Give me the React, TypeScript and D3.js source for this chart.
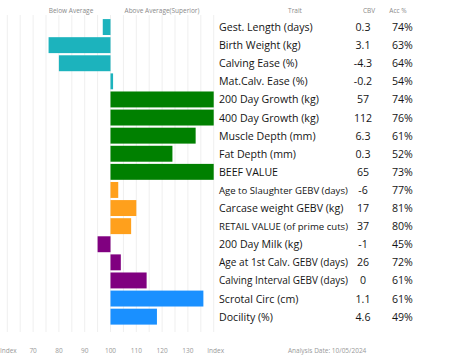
import React, { useEffect, useRef } from 'react';
import * as d3 from 'd3';

const traits = [
  'Gest. Length (days)', 'Birth Weight (kg)', 'Calving Ease (%)', 'Mat.Calv. Ease (%)',
  '200 Day Growth (kg)', '400 Day Growth (kg)', 'Muscle Depth (mm)', 'Fat Depth (mm)',
  'BEEF VALUE', 'Age to Slaughter GEBV (days)', 'Carcase weight GEBV (kg)',
  'RETAIL VALUE (of prime cuts)', '200 Day Milk (kg)', 'Age at 1st Calv. GEBV (days)',
  'Calving Interval GEBV (days)', 'Scrotal Circ (cm)', 'Docility (%)',
];
const cbv = ['0.3', '3.1', '-4.3', '-0.2', '57', '112', '6.3', '0.3', '65', '-6', '17', '37', '-1', '26', '0', '1.1', '4.6'];
const acc = ['74%', '63%', '64%', '54%', '74%', '76%', '61%', '52%', '73%', '77%', '81%', '80%', '45%', '72%', '61%', '61%', '49%'];
const indexValues = [97, 76, 80, 101, 140, 140, 133, 124, 140, 103, 110, 108, 95, 104, 114, 136, 118];
const groups = ['calving', 'calving', 'calving', 'calving', 'growth', 'growth', 'growth', 'growth', 'growth',
  'carcase', 'carcase', 'carcase', 'maternal', 'maternal', 'maternal', 'other', 'other'];
const groupColors = { calving: '#1cb3bd', growth: '#008000', carcase: '#ffa01c', maternal: '#800080', other: '#1a90ff' };
const tickLabels = ['Index', '70', '80', '90', '100', '110', '120', '130', 'Index'];

function App() {
  const ref = useRef<SVGSVGElement>(null);

  useEffect(() => {
    const svg = d3.select(ref.current);
    svg.selectAll('*').remove();

    const font = 'Open Sans, sans-serif';
    const x = d3.scaleLinear().domain([60, 140]).range([7.3, 213.7]).clamp(true);
    const y = d3.scaleBand().domain(traits).range([18, 325.7]).paddingInner(0.12).paddingOuter(0.06);

    // grid
    svg.append('g')
      .selectAll('line')
      .data(d3.range(60, 141, 5))
      .join('line')
      .attr('x1', d => x(d)).attr('x2', d => x(d))
      .attr('y1', 15).attr('y2', 332)
      .attr('stroke', '#efefef')
      .attr('stroke-width', 1);

    // bars
    svg.append('g')
      .selectAll('rect')
      .data(traits)
      .join('rect')
      .attr('x', (d, i) => Math.min(x(100), x(indexValues[i])))
      .attr('width', (d, i) => Math.abs(x(indexValues[i]) - x(100)))
      .attr('y', d => y(d))
      .attr('height', y.bandwidth())
      .attr('fill', (d, i) => groupColors[groups[i]]);

    // header
    const header = [
      { t: 'Below Average', x: 71 },
      { t: 'Above Average(Superior)', x: 162 },
      { t: 'Trait', x: 295 },
      { t: 'CBV', x: 369 },
      { t: 'Acc %', x: 398 },
    ];
    svg.append('g')
      .selectAll('text')
      .data(header)
      .join('text')
      .attr('x', d => d.x)
      .attr('y', 13)
      .attr('text-anchor', 'middle')
      .style('font-family', font)
      .style('font-size', '6.5px')
      .style('fill', '#8a8a8a')
      .text(d => d.t);

    // table rows
    const fontSize = 10.6;
    const rows = svg.append('g')
      .style('font-family', font)
      .style('font-size', `${fontSize}px`)
      .style('fill', '#151515');
    const maxTraitWidth = 129;
    traits.forEach((t, i) => {
      const cy = y(t) + y.bandwidth() / 2 + 4;
      const label = rows.append('text').attr('x', 219).attr('y', cy).text(t);
      let w = (label.node() as SVGTextElement).getComputedTextLength();
      if (w > maxTraitWidth) {
        // shrink long trait names so they stay clear of the CBV column
        label.style('font-size', `${(fontSize * maxTraitWidth) / w}px`);
        w = maxTraitWidth;
      }
      const num = rows.append('text').attr('y', cy).text(cbv[i]);
      const nw = (num.node() as SVGTextElement).getComputedTextLength();
      num.attr('x', Math.max(363 - nw / 2, 219 + w + 6));
      rows.append('text').attr('x', 392).attr('y', cy).text(acc[i]);
    });

    // axis labels
    svg.append('g')
      .selectAll('text')
      .data(tickLabels)
      .join('text')
      .attr('x', (d, i) => x(60 + i * 10) + (i === 8 ? 2 : i === 0 ? 1 : 0))
      .attr('y', 353)
      .attr('text-anchor', 'middle')
      .style('font-family', font)
      .style('font-size', '6.5px')
      .style('fill', '#999')
      .text(d => d);

    svg.append('text')
      .attr('x', 288)
      .attr('y', 353)
      .style('font-family', font)
      .style('font-size', '6.5px')
      .style('fill', '#999')
      .text('Analysis Date: 10/05/2024');
  }, []);

  return (
    <svg ref={ref} width={453} height={362}
      style={{ position: 'absolute', left: 0, top: 0, background: '#fff' }} />
  );
}

export default App;
